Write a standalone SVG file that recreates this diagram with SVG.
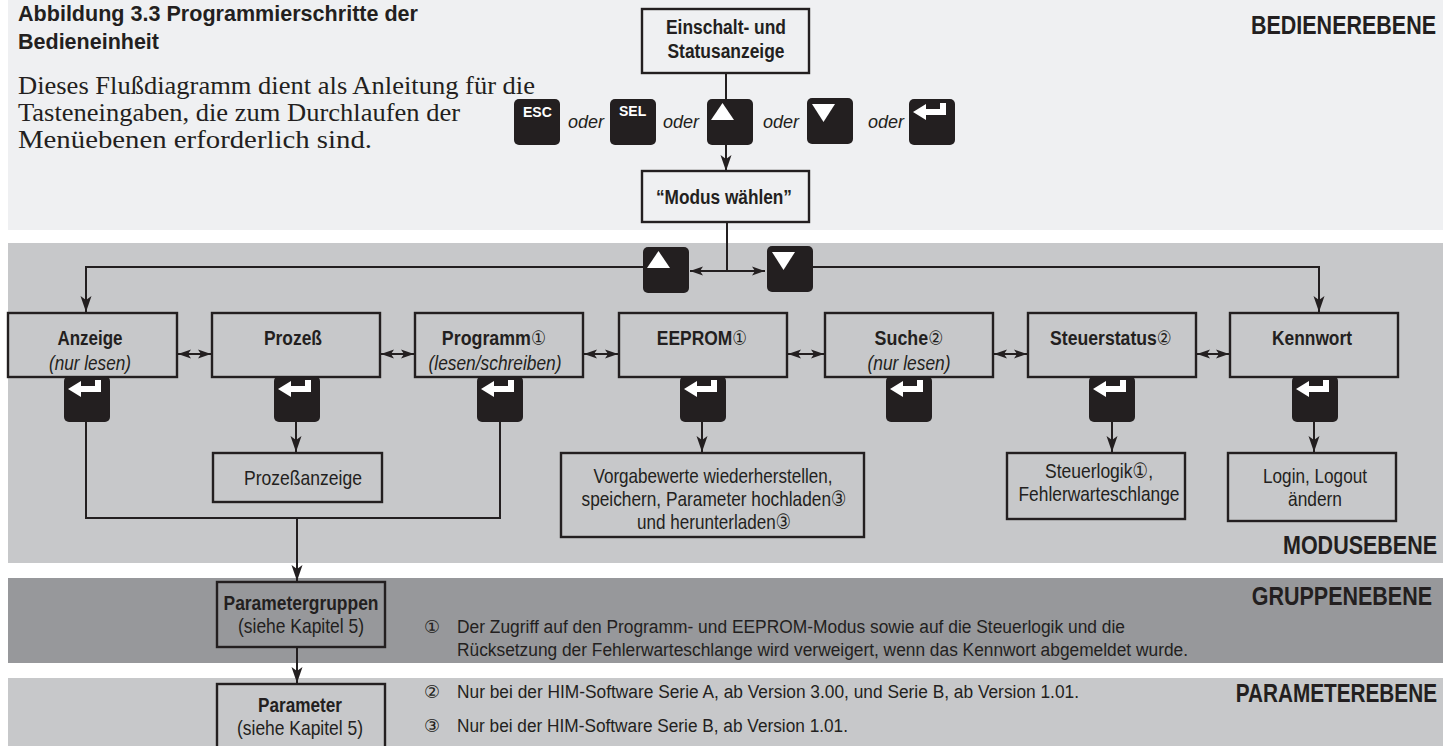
<svg xmlns="http://www.w3.org/2000/svg" width="1443" height="746" viewBox="0 0 1443 746">
<style>
.nb{font-family:"Liberation Sans","DejaVu Sans",sans-serif;font-weight:bold;fill:#231f20}
.nr{font-family:"Liberation Sans","DejaVu Sans",sans-serif;fill:#231f20}
.ni{font-family:"Liberation Sans","DejaVu Sans",sans-serif;font-style:italic;fill:#231f20}
.dg{font-family:"DejaVu Sans",sans-serif;font-weight:normal;font-size:20px}
.serif{font-family:"Liberation Serif","DejaVu Serif",serif;fill:#231f20}
.oder{font-family:"Liberation Sans","DejaVu Sans",sans-serif;font-style:italic;font-size:18px;fill:#231f20}
.keylbl{font-family:"Liberation Sans","DejaVu Sans",sans-serif;font-weight:bold;font-size:14px;fill:#fff}
.box{stroke:#231f20;stroke-width:2.4}
.key{fill:#231f20}
.glyph{fill:#fff}
.ln{fill:none;stroke:#231f20;stroke-width:2}
.lvl{font-size:25px;text-anchor:end}
.c{text-anchor:middle}
</style>
<defs>
<marker id="ah" markerUnits="userSpaceOnUse" markerWidth="20" markerHeight="14" refX="0" refY="0" viewBox="-18 -7 20 14" orient="auto">
<path d="M0,0 L-16,-5.5 L-12,0 L-16,5.5 Z" fill="#231f20"/>
</marker>
<marker id="ahs" markerUnits="userSpaceOnUse" markerWidth="16" markerHeight="12" refX="0" refY="0" viewBox="-14 -6 16 12" orient="auto-start-reverse">
<path d="M0,0 L-13,-4.5 L-10,0 L-13,4.5 Z" fill="#231f20"/>
</marker>
<g id="kEnter"><rect class="key" width="46" height="46" rx="5"/><path class="glyph" d="M4,13 L17,5 L17,10 L31,10 L31,4 L37,4 L37,16 L17,16 L17,21 Z"/></g>
<g id="kUp"><rect class="key" width="46" height="46" rx="5"/><path class="glyph" d="M4,21 L27,21 L15.5,4 Z"/></g>
<g id="kDown"><rect class="key" width="46" height="46" rx="5"/><path class="glyph" d="M5,6 L28,6 L16.5,24 Z"/></g>
</defs>

<g id="bands">
<rect x="8" y="0" width="1435" height="230" fill="#eff0f2"/>
<rect x="8" y="243" width="1435" height="320" fill="#c7c8ca"/>
<rect x="8" y="578" width="1435" height="85" fill="#97989b"/>
<rect x="8" y="678" width="1435" height="68" fill="#c7c8ca"/>
</g>

<g id="intro">
<text class="nb" x="18" y="21" font-size="22" textLength="400" lengthAdjust="spacingAndGlyphs">Abbildung 3.3 Programmierschritte der</text>
<text class="nb" x="18" y="49" font-size="22" textLength="141" lengthAdjust="spacingAndGlyphs">Bedieneinheit</text>
<text class="serif" x="18" y="94" font-size="24.5" textLength="517" lengthAdjust="spacingAndGlyphs">Dieses Flußdiagramm dient als Anleitung für die</text>
<text class="serif" x="18" y="121" font-size="24.5" textLength="442" lengthAdjust="spacingAndGlyphs">Tasteneingaben, die zum Durchlaufen der</text>
<text class="serif" x="18" y="148" font-size="24.5" textLength="354" lengthAdjust="spacingAndGlyphs">Menüebenen erforderlich sind.</text>
</g>

<g id="levels">
<text class="nb lvl" transform="translate(1436,34) scale(0.86,1)">BEDIENEREBENE</text>
<text class="nb lvl" transform="translate(1437,554) scale(0.86,1)">MODUSEBENE</text>
<text class="nb lvl" transform="translate(1432,605) scale(0.86,1)">GRUPPENEBENE</text>
<text class="nb lvl" transform="translate(1437,702) scale(0.83,1)">PARAMETEREBENE</text>
</g>

<g id="connectors">
<line class="ln" x1="726" y1="73" x2="726" y2="171" marker-end="url(#ah)"/>
<line class="ln" x1="727" y1="222" x2="727" y2="271"/>
<line class="ln" x1="690" y1="271" x2="765" y2="271" marker-start="url(#ahs)" marker-end="url(#ahs)"/>
<path class="ln" d="M645,267 H86 V312" marker-end="url(#ah)"/>
<path class="ln" d="M811,267 H1319 V312" marker-end="url(#ah)"/>
<line class="ln" x1="178" y1="354" x2="211" y2="354" marker-start="url(#ahs)" marker-end="url(#ahs)"/>
<line class="ln" x1="381" y1="354" x2="414" y2="354" marker-start="url(#ahs)" marker-end="url(#ahs)"/>
<line class="ln" x1="584" y1="354" x2="618" y2="354" marker-start="url(#ahs)" marker-end="url(#ahs)"/>
<line class="ln" x1="788" y1="354" x2="824" y2="354" marker-start="url(#ahs)" marker-end="url(#ahs)"/>
<line class="ln" x1="994" y1="354" x2="1027" y2="354" marker-start="url(#ahs)" marker-end="url(#ahs)"/>
<line class="ln" x1="1197" y1="354" x2="1229" y2="354" marker-start="url(#ahs)" marker-end="url(#ahs)"/>
<path class="ln" d="M86,420 V518 H500 V420"/>
<line class="ln" x1="297" y1="518" x2="297" y2="581" marker-end="url(#ah)"/>
<line class="ln" x1="296" y1="420" x2="296" y2="452" marker-end="url(#ah)"/>
<line class="ln" x1="702" y1="420" x2="702" y2="452" marker-end="url(#ah)"/>
<line class="ln" x1="1112" y1="420" x2="1112" y2="452" marker-end="url(#ah)"/>
<line class="ln" x1="1314" y1="420" x2="1314" y2="452" marker-end="url(#ah)"/>
<line class="ln" x1="297" y1="647" x2="297" y2="683" marker-end="url(#ah)"/>
</g>

<g id="n-einschalt">
<rect class="box" x="642" y="9" width="167" height="64" fill="#eff0f2"/>
<text class="nb c" x="726" y="34" font-size="20" textLength="120" lengthAdjust="spacingAndGlyphs">Einschalt- und</text>
<text class="nb c" x="726" y="58" font-size="20" textLength="117" lengthAdjust="spacingAndGlyphs">Statusanzeige</text>
</g>

<g id="n-keys-top">
<rect class="key" x="514" y="99" width="46" height="46" rx="5"/>
<text class="keylbl" x="523" y="117">ESC</text>
<text class="oder" x="568" y="128">oder</text>
<rect class="key" x="610" y="99" width="46" height="46" rx="5"/>
<text class="keylbl" x="619" y="116">SEL</text>
<text class="oder" x="663" y="128">oder</text>
<use href="#kUp" x="707" y="99"/>
<text class="oder" x="763" y="128">oder</text>
<use href="#kDown" x="807" y="98"/>
<text class="oder" x="868" y="128">oder</text>
<use href="#kEnter" x="909" y="99"/>
</g>

<g id="n-modus">
<rect class="box" x="642" y="171" width="167" height="51" fill="#eff0f2"/>
<text class="nb c" x="724" y="204" font-size="20" textLength="136" lengthAdjust="spacingAndGlyphs">“Modus wählen”</text>
</g>

<g id="n-updown">
<use href="#kUp" x="643" y="247"/>
<use href="#kDown" x="767" y="246"/>
</g>

<g id="n-anzeige">
<rect class="box" x="8" y="313" width="169" height="64" fill="#c7c8ca"/>
<text class="nb c" x="90" y="345" font-size="21" textLength="65" lengthAdjust="spacingAndGlyphs">Anzeige</text>
<text class="ni c" x="90" y="370" font-size="21" textLength="82" lengthAdjust="spacingAndGlyphs">(nur lesen)</text>
<use href="#kEnter" x="64" y="376"/>
</g>
<g id="n-prozess">
<rect class="box" x="212" y="313" width="168" height="64" fill="#c7c8ca"/>
<text class="nb c" x="293" y="345" font-size="21" textLength="58" lengthAdjust="spacingAndGlyphs">Prozeß</text>
<use href="#kEnter" x="274" y="376"/>
</g>
<g id="n-programm">
<rect class="box" x="415" y="313" width="168" height="64" fill="#c7c8ca"/>
<text class="nb c" font-size="21" transform="translate(494,345) scale(0.85,1)">Programm<tspan class="dg">①</tspan></text>
<text class="ni c" x="495" y="370" font-size="21" textLength="133" lengthAdjust="spacingAndGlyphs">(lesen/schreiben)</text>
<use href="#kEnter" x="477" y="376"/>
</g>
<g id="n-eeprom">
<rect class="box" x="619" y="313" width="168" height="64" fill="#c7c8ca"/>
<text class="nb c" font-size="21" transform="translate(702,345) scale(0.83,1)">EEPROM<tspan class="dg">①</tspan></text>
<use href="#kEnter" x="680" y="376"/>
</g>
<g id="n-suche">
<rect class="box" x="825" y="313" width="168" height="64" fill="#c7c8ca"/>
<text class="nb c" font-size="21" transform="translate(909,345) scale(0.85,1)">Suche<tspan class="dg">②</tspan></text>
<text class="ni c" x="909" y="370" font-size="21" textLength="83" lengthAdjust="spacingAndGlyphs">(nur lesen)</text>
<use href="#kEnter" x="886" y="376"/>
</g>
<g id="n-steuerstatus">
<rect class="box" x="1028" y="313" width="168" height="64" fill="#c7c8ca"/>
<text class="nb c" font-size="21" transform="translate(1111,345) scale(0.84,1)">Steuerstatus<tspan class="dg">②</tspan></text>
<use href="#kEnter" x="1089" y="376"/>
</g>
<g id="n-kennwort">
<rect class="box" x="1230" y="313" width="168" height="64" fill="#c7c8ca"/>
<text class="nb c" x="1312" y="345" font-size="21" textLength="80" lengthAdjust="spacingAndGlyphs">Kennwort</text>
<use href="#kEnter" x="1292" y="376"/>
</g>

<g id="n-prozessanzeige">
<rect class="box" x="213" y="453" width="169" height="49" fill="#c7c8ca"/>
<text class="nr c" x="303" y="485" font-size="21" textLength="118" lengthAdjust="spacingAndGlyphs">Prozeßanzeige</text>
</g>
<g id="n-vorgabe">
<rect class="box" x="561" y="453" width="303" height="84" fill="#c7c8ca"/>
<text class="nr c" x="713" y="483" font-size="21" textLength="239" lengthAdjust="spacingAndGlyphs">Vorgabewerte wiederherstellen,</text>
<text class="nr c" x="714" y="506" font-size="21" textLength="265" lengthAdjust="spacingAndGlyphs">speichern, Parameter hochladen③</text>
<text class="nr c" x="714" y="529" font-size="21" textLength="154" lengthAdjust="spacingAndGlyphs">und herunterladen③</text>
</g>
<g id="n-steuerlogik">
<rect class="box" x="1007" y="453" width="178" height="66" fill="#c7c8ca"/>
<text class="nr c" x="1099" y="478" font-size="21" textLength="108" lengthAdjust="spacingAndGlyphs">Steuerlogik①,</text>
<text class="nr c" x="1099" y="501" font-size="21" textLength="161" lengthAdjust="spacingAndGlyphs">Fehlerwarteschlange</text>
</g>
<g id="n-login">
<rect class="box" x="1228" y="453" width="168" height="68" fill="#c7c8ca"/>
<text class="nr c" x="1315" y="483" font-size="21" textLength="104" lengthAdjust="spacingAndGlyphs">Login, Logout</text>
<text class="nr c" x="1315" y="506" font-size="21" textLength="54" lengthAdjust="spacingAndGlyphs">ändern</text>
</g>

<g id="n-parametergruppen">
<rect class="box" x="217" y="582" width="168" height="65" fill="#97989b"/>
<text class="nb c" x="301" y="610" font-size="21" textLength="155" lengthAdjust="spacingAndGlyphs">Parametergruppen</text>
<text class="nr c" x="301" y="633" font-size="21" textLength="126" lengthAdjust="spacingAndGlyphs">(siehe Kapitel 5)</text>
</g>
<g id="n-parameter">
<rect class="box" x="217" y="684" width="168" height="70" fill="#c7c8ca"/>
<text class="nb c" x="300" y="712" font-size="21" textLength="84" lengthAdjust="spacingAndGlyphs">Parameter</text>
<text class="nr c" x="300" y="735" font-size="21" textLength="126" lengthAdjust="spacingAndGlyphs">(siehe Kapitel 5)</text>
</g>

<g id="footnotes">
<text class="nr" x="424" y="633" font-size="18">①</text>
<text class="nr" x="457" y="633" font-size="18" textLength="668" lengthAdjust="spacingAndGlyphs">Der Zugriff auf den Programm- und EEPROM-Modus sowie auf die Steuerlogik und die</text>
<text class="nr" x="457" y="656" font-size="18" textLength="731" lengthAdjust="spacingAndGlyphs">Rücksetzung der Fehlerwarteschlange wird verweigert, wenn das Kennwort abgemeldet wurde.</text>
<text class="nr" x="424" y="698" font-size="18">②</text>
<text class="nr" x="457" y="698" font-size="18" textLength="622" lengthAdjust="spacingAndGlyphs">Nur bei der HIM-Software Serie A, ab Version 3.00, und Serie B, ab Version 1.01.</text>
<text class="nr" x="424" y="732" font-size="18">③</text>
<text class="nr" x="457" y="732" font-size="18" textLength="391" lengthAdjust="spacingAndGlyphs">Nur bei der HIM-Software Serie B, ab Version 1.01.</text>
</g>
</svg>
